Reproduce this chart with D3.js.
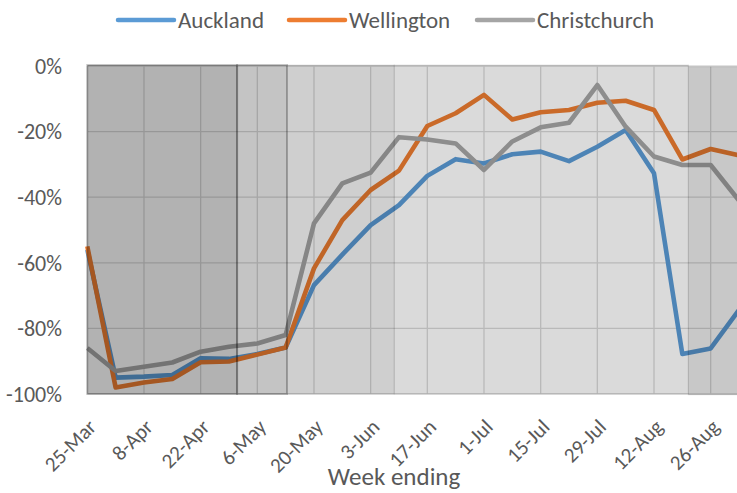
<!DOCTYPE html>
<html>
<head>
<meta charset="utf-8">
<script src="https://cdn.jsdelivr.net/npm/d3@7"></script>
<style>
  body { margin: 0; background: #fff; }
  text { font-family: Carlito, Calibri, Lato, sans-serif; fill: #595959; }
</style>
</head>
<body>
<div id="vis"></div>
<script>
// Weekly values (% change), week ending dates
const weeks = ['25-Mar', '1-Apr', '8-Apr', '15-Apr', '22-Apr', '29-Apr', '6-May', '13-May', '20-May', '27-May',
  '3-Jun', '10-Jun', '17-Jun', '24-Jun', '1-Jul', '8-Jul', '15-Jul', '22-Jul', '29-Jul', '5-Aug', '12-Aug',
  '19-Aug', '26-Aug', '2-Sep'];
const auckland = [-56, -95, -94.7, -94.2, -89.1, -89.3, -87.8, -85.8, -66.8, -57.5, -48.5, -42.4, -33.5, -28.4,
  -29.7, -26.9, -26.1, -29, -24.6, -19.5, -32.7, -87.8, -86.1, -74.4];
const wellington = [-55, -98, -96.5, -95.4, -90.3, -90.1, -88, -85.8, -61.7, -47, -37.8, -31.9, -18.3, -14.4,
  -8.8, -16.3, -14.1, -13.4, -11.2, -10.6, -13.4, -28.5, -25.3, -27.2];
const christchurch = [-86, -93, -91.7, -90.4, -87.1, -85.6, -84.6, -82, -48, -35.8, -32.5, -21.7, -22.4, -23.6,
  -31.7, -23, -18.7, -17.3, -5.8, -18.5, -27.6, -30.2, -30.2, -41];
const seriesNames = ['Auckland', 'Wellington', 'Christchurch'];
const yTicks = [0, -20, -40, -60, -80, -100];

// alert level periods (shaded bands)
const levelStart = ['2020-03-25', '2020-05-01', '2020-05-13T08:00', '2020-06-08T20:00', '2020-08-20T12:00'];
const levelEnd = ['2020-05-01', '2020-05-13T08:00', '2020-06-08T20:00', '2020-08-20T12:00', '2020-09-10'];
const levelShade = [0.30, 0.23, 0.19, 0.145, 0.215];

const colors = ['#5B9BD5', '#ED7D31', '#A5A5A5'];
const W = 737, H = 493;
const margin = { left: 87.3, right: 739, top: 66, bottom: 394 };

const parse = d3.timeParse('%d-%b-%Y');
const dates = weeks.map(w => parse(w + '-2020'));
const iso = d3.isoParse;

const svg = d3.select('#vis').append('svg')
  .attr('width', W).attr('height', H);

const x = d3.scaleTime().domain([dates[0], dates[dates.length - 1]]).range([margin.left, margin.right]);
const y = d3.scaleLinear().domain([-100, 0]).range([margin.bottom, margin.top]);

// gridlines
svg.append('g').selectAll('line')
  .data(yTicks).join('line')
  .attr('x1', margin.left).attr('x2', W)
  .attr('y1', d => y(d)).attr('y2', d => y(d))
  .attr('stroke', '#d9d9d9').attr('stroke-width', 1.3);

const labelled = dates.filter((d, i) => i % 2 === 0);
svg.append('g').selectAll('line')
  .data(labelled).join('line')
  .attr('x1', d => x(d)).attr('x2', d => x(d))
  .attr('y1', margin.top).attr('y2', margin.bottom)
  .attr('stroke', '#d9d9d9').attr('stroke-width', 1.3);

// series lines
const allSeries = [auckland, wellington, christchurch];
const line = d3.line().x((d, i) => x(dates[i])).y(d => y(d));
svg.append('g').selectAll('path')
  .data(allSeries).join('path')
  .attr('d', line)
  .attr('fill', 'none')
  .attr('stroke', (d, i) => colors[i])
  .attr('stroke-width', 4.6)
  .attr('stroke-linejoin', 'round');

// shaded alert level bands on top
svg.append('g').selectAll('rect')
  .data(levelStart).join('rect')
  .attr('x', d => x(iso(d)))
  .attr('y', (d, i) => i === 4 ? margin.top + 0.7 : margin.top - 1)
  .attr('width', (d, i) => x(iso(levelEnd[i])) - x(iso(d)))
  .attr('height', (d, i) => margin.bottom - margin.top + (i === 4 ? 0 : 1))
  .attr('fill', '#000')
  .attr('fill-opacity', (d, i) => levelShade[i])
  .attr('stroke', '#000')
  .attr('stroke-opacity', (d, i) => i < 2 ? 0.22 : 0.08)
  .attr('stroke-width', (d, i) => i < 2 ? 2 : 1.2);

// y axis labels
svg.append('g').selectAll('text')
  .data(yTicks).join('text')
  .attr('x', 62).attr('y', d => y(d))
  .attr('dy', '0.35em')
  .attr('text-anchor', 'end')
  .style('font-size', '22px')
  .text(d => d + '%');

// x axis labels
svg.append('g').selectAll('text')
  .data(labelled).join('text')
  .attr('transform', d => `translate(${x(d) + 5},${423}) rotate(-45)`)
  .attr('text-anchor', 'end')
  .attr('dy', '0.35em')
  .style('font-size', '21px')
  .text((d, i) => weeks[i * 2]);

svg.append('text')
  .attr('x', 394).attr('y', 485)
  .attr('text-anchor', 'middle')
  .style('font-size', '25px')
  .text('Week ending');

// legend
const legendX = [118, 289, 477];
const lg = svg.append('g').selectAll('g')
  .data(seriesNames).join('g')
  .attr('transform', (d, i) => `translate(${legendX[i]},20)`);
lg.append('line')
  .attr('x1', 0).attr('x2', 56)
  .attr('stroke', (d, i) => colors[i])
  .attr('stroke-width', 4.5)
  .attr('stroke-linecap', 'round');
lg.append('text')
  .attr('x', 60).attr('dy', '0.35em')
  .style('font-size', '23px')
  .text(d => d);
</script>
</body>
</html>
